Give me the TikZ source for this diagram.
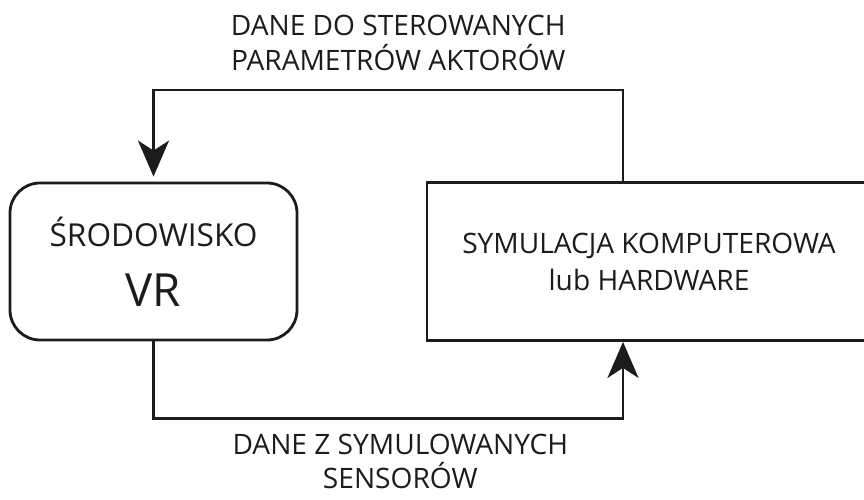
\documentclass[tikz,border=0pt]{standalone}
\usepackage{fontspec}
\setmainfont{Open Sans}
\usetikzlibrary{arrows.meta}
\definecolor{ink}{HTML}{1C1C1C}

\begin{document}
\begin{tikzpicture}[
  vrbox/.style={rectangle, draw=ink, line width=1.6pt, rounded corners=0.6cm, minimum width=5.74cm, minimum height=3.14cm, align=center, text=ink, font=\fontsize{18}{22}\selectfont},
  hwbox/.style={rectangle, draw=ink, line width=1.6pt, minimum width=8.88cm, minimum height=3.16cm, align=center, text=ink, font=\fontsize{16}{21}\selectfont},
  flow/.style={draw=ink, line width=1.6pt, -{Stealth[length=0.72cm, width=0.62cm, inset=0.2cm]}},
  flowlabel/.style={inner sep=0pt, align=center, text=ink},
  node distance=9.91cm
]
\path[use as bounding box, clip] (0,0) rectangle (17.28,9.98);

\node[vrbox] (vr) at (3.07,4.75) {ŚRODOWISKO\\[12pt]\fontsize{26}{30}\selectfont VR};
\node[hwbox, right of=vr] (hw) {SYMULACJA KOMPUTEROWA\\lub HARDWARE};

\draw[flow, shorten >=0.1cm] ([xshift=-0.52cm]hw.north) -- ++(0,1.82) -| node[pos=0.25, flowlabel, font=\fontsize{16}{20}\selectfont, above=0.36cm, xshift=0.2cm] {DANE DO STEROWANYCH\\PARAMETRÓW AKTORÓW} (vr.north);
\draw[flow] (vr.south) -- ++(0,-1.54) -| node[pos=0.25, flowlabel, font=\fontsize{16}{19.5}\selectfont, below=0.28cm, xshift=0.24cm] {DANE Z SYMULOWANYCH\\SENSORÓW} ([xshift=-0.52cm]hw.south);
\end{tikzpicture}
\end{document}
